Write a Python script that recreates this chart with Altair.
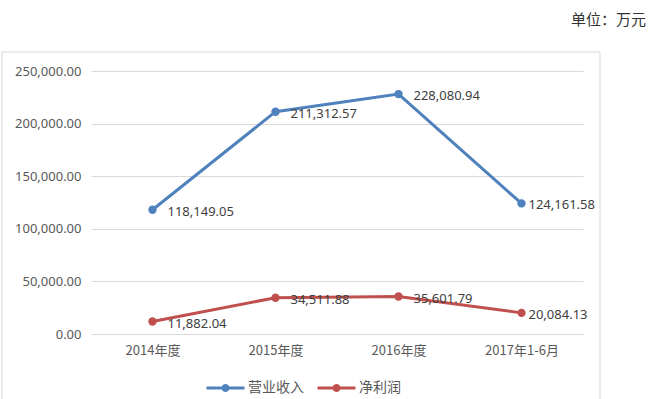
import math
import altair as alt
import pandas as pd

categories = ["2014年度", "2015年度", "2016年度", "2017年1-6月"]
series_names = ["营业收入", "净利润"]
revenue = [118149.05, 211312.57, 228080.94, 124161.58]
profit = [11882.04, 34511.88, 35601.79, 20084.13]
y_ticks = [0, 50000, 100000, 150000, 200000, 250000]
unit_label = "单位：万元"
colors = ["#4F81BD", "#C0504D"]

rows = []
for name, vals in zip(series_names, [revenue, profit]):
    for c, v in zip(categories, vals):
        rows.append({"category": c, "series": name, "value": v})
df = pd.DataFrame(rows)

NUM_FONT = "Noto Sans"
CJK_FONT = "Noto Sans CJK SC"

x = alt.X(
    "category:N",
    sort=categories,
    scale=alt.Scale(type="point", padding=0.5),
    axis=alt.Axis(
        title=None, labelAngle=0, ticks=False, domainColor="#D9D9D9",
        labelFont=CJK_FONT, labelFontSize=13, labelColor="#595959", labelPadding=10,
    ),
)
y = alt.Y(
    "value:Q",
    scale=alt.Scale(domain=[0, 250000], nice=False),
    axis=alt.Axis(
        title=None, values=y_ticks, format=",.2f", ticks=False, domain=False,
        gridColor="#D9D9D9", labelFont=NUM_FONT, labelFontSize=13,
        labelColor="#595959", labelPadding=10,
    ),
)
color_scale = alt.Scale(domain=series_names, range=colors)


def ring(r, n=20):
    pts = " ".join(
        f"{'M' if k == 0 else 'L'}{r * math.cos(2 * math.pi * k / n):.3f},{r * math.sin(2 * math.pi * k / n):.3f}"
        for k in range(n)
    )
    return pts + "Z"


# legend glyph (stroked): line segment with a dot in the middle, Excel style
legend_path = f"M-1,0L1,0 {ring(0.132)} {ring(0.053)}"

base = alt.Chart(df).encode(x=x, y=y)

lines = base.mark_line(strokeWidth=3).encode(
    stroke=alt.Stroke(
        "series:N", scale=color_scale,
        legend=alt.Legend(
            title=None, orient="none", direction="horizontal",
            legendX=114, legendY=296, symbolType=legend_path, symbolSize=1444,
            symbolStrokeWidth=3, labelFont=CJK_FONT, labelFontSize=14,
            labelColor="#595959", labelOffset=2, columnPadding=7,
        ),
    )
)
points = base.mark_point(filled=True, size=70, opacity=1).encode(
    color=alt.Color("series:N", scale=color_scale, legend=None)
)

label_kw = dict(align="left", baseline="middle", dy=2, font=NUM_FONT,
                fontSize=13, color="#404040")
labels_main = base.mark_text(dx=15, **label_kw).encode(
    text=alt.Text("value:Q", format=",.2f")
).transform_filter(alt.datum.category != categories[-1])
labels_last = base.mark_text(dx=7, **label_kw).encode(
    text=alt.Text("value:Q", format=",.2f")
).transform_filter(alt.datum.category == categories[-1])

title = alt.Chart(pd.DataFrame({"t": [unit_label]})).mark_text(
    align="right", baseline="middle", font=CJK_FONT, fontSize=15, color="#333333"
).encode(text="t:N", x=alt.value(555), y=alt.value(-51))

border = alt.Chart(pd.DataFrame({"t": [0]})).mark_rect(
    fillOpacity=0, stroke="#D9D9D9", strokeWidth=1
).encode(x=alt.value(-89), x2=alt.value(509), y=alt.value(-19), y2=alt.value(340))

chart = alt.layer(border, lines, points, labels_main, labels_last, title).properties(
    width=492, height=263,
    autosize=alt.AutoSizeParams(type="none"),
    padding={"left": 91, "top": 71, "right": 65, "bottom": 65},
).configure_view(stroke=None)

chart.save("out.html", embed_options={"renderer": "svg", "actions": False})
